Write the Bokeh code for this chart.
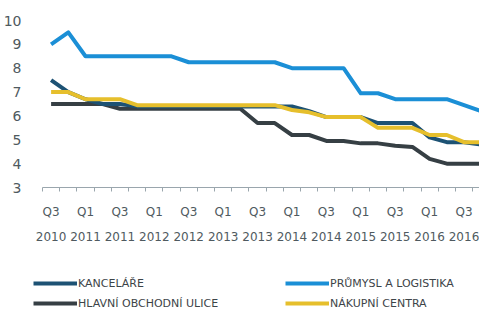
from bokeh.plotting import figure
from bokeh.layouts import column
from bokeh.models import FixedTicker, LinearAxis, Legend, LegendItem, Range1d
from bokeh.embed import file_html
from bokeh.resources import INLINE

quarters = ["Q3 2010", "Q4 2010", "Q1 2011", "Q2 2011", "Q3 2011", "Q4 2011",
            "Q1 2012", "Q2 2012", "Q3 2012", "Q4 2012", "Q1 2013", "Q2 2013",
            "Q3 2013", "Q4 2013", "Q1 2014", "Q2 2014", "Q3 2014", "Q4 2014",
            "Q1 2015", "Q2 2015", "Q3 2015", "Q4 2015", "Q1 2016", "Q2 2016",
            "Q3 2016", "Q4 2016"]

kancelare = [7.5, 7.0, 6.7, 6.5, 6.5, 6.4, 6.4, 6.4, 6.4, 6.4, 6.4, 6.4, 6.4,
             6.4, 6.4, 6.2, 5.95, 5.95, 5.95, 5.7, 5.7, 5.7, 5.1, 4.9, 4.9, 4.8]
prumysl = [9.0, 9.5, 8.5, 8.5, 8.5, 8.5, 8.5, 8.5, 8.25, 8.25, 8.25, 8.25, 8.25,
           8.25, 8.0, 8.0, 8.0, 8.0, 6.95, 6.95, 6.7, 6.7, 6.7, 6.7, 6.45, 6.2]
hlavni = [6.5, 6.5, 6.5, 6.5, 6.3, 6.3, 6.3, 6.3, 6.3, 6.3, 6.3, 6.3, 5.7,
          5.7, 5.2, 5.2, 4.95, 4.95, 4.85, 4.85, 4.75, 4.7, 4.2, 4.0, 4.0, 4.0]
nakupni = [7.0, 7.0, 6.7, 6.7, 6.7, 6.45, 6.45, 6.45, 6.45, 6.45, 6.45, 6.45, 6.45,
           6.45, 6.25, 6.15, 5.95, 5.95, 5.95, 5.5, 5.5, 5.5, 5.2, 5.2, 4.9, 4.9]

series_names = ["KANCELÁŘE", "PRŮMYSL A LOGISTIKA", "HLAVNÍ OBCHODNÍ ULICE", "NÁKUPNÍ CENTRA"]
y_ticks = [3, 4, 5, 6, 7, 8, 9, 10]

FONT = "DejaVu Sans"
TXT = "#4f5a60"
colors = {"k": "#1d5274", "p": "#1b8fd6", "h": "#363f44", "n": "#e6bf2c"}

x = list(range(len(quarters)))

p = figure(frame_width=437, frame_height=167,
           output_backend="svg", toolbar_location=None,
           x_range=Range1d(-0.5, 24.9), y_range=Range1d(3, 10),
           min_border_left=35, min_border_right=0, min_border_top=20,
           min_border_bottom=70)
p.outline_line_color = None
p.xgrid.visible = False
p.ygrid.visible = False
p.background_fill_color = "white"
p.border_fill_color = "white"

label_idx = list(range(0, len(quarters), 2))
minor = [i - 0.5 for i in range(len(quarters) + 1)]

xa = p.xaxis[0]
xa.ticker = FixedTicker(ticks=label_idx, minor_ticks=minor)
xa.major_label_overrides = {i: quarters[i].split()[0] for i in label_idx}
xa.major_tick_out = 0
xa.major_tick_in = 0
xa.minor_tick_out = 4
xa.minor_tick_in = 0
xa.axis_line_color = "#9aa6ad"
xa.minor_tick_line_color = "#9aa6ad"
xa.major_label_standoff = 13
xa.major_label_text_font = FONT
xa.major_label_text_font_size = "12px"
xa.major_label_text_color = TXT

xa2 = LinearAxis(ticker=FixedTicker(ticks=label_idx, minor_ticks=[]))
xa2.major_label_overrides = {i: quarters[i].split()[1] for i in label_idx}
xa2.axis_line_color = None
xa2.major_tick_line_color = None
xa2.minor_tick_line_color = None
xa2.major_tick_out = 0
xa2.major_tick_in = 0
xa2.major_label_standoff = 10
xa2.major_label_text_font = FONT
xa2.major_label_text_font_size = "12px"
xa2.major_label_text_color = TXT
p.add_layout(xa2, "below")

ya = p.yaxis[0]
ya.ticker = FixedTicker(ticks=y_ticks)
ya.axis_line_color = None
ya.major_tick_line_color = None
ya.minor_tick_line_color = None
ya.major_label_standoff = 15
ya.major_label_text_font = FONT
ya.major_label_text_font_size = "14px"
ya.major_label_text_color = TXT

def draw(fig):
    r_h = fig.line(x, hlavni, line_color=colors["h"], line_width=4, line_join="round")
    r_k = fig.line(x, kancelare, line_color=colors["k"], line_width=4, line_join="round")
    r_p = fig.line(x, prumysl, line_color=colors["p"], line_width=4, line_join="round")
    r_n = fig.line(x, nakupni, line_color=colors["n"], line_width=4, line_join="round")
    return r_k, r_p, r_h, r_n

draw(p)

can_unalign = "frame_align" in p.properties()

# legend strip below the chart (its lines lie outside its visible range)
q = figure(width=472, height=56, output_backend="svg", toolbar_location=None,
           x_axis_type=None, y_axis_type=None,
           x_range=Range1d(0, 1), y_range=Range1d(100, 101),
           min_border_left=0 if can_unalign else 35, min_border_right=0,
           min_border_top=0, min_border_bottom=0)
q.outline_line_color = None
q.xgrid.visible = False
q.ygrid.visible = False
q.background_fill_color = "white"
q.border_fill_color = "white"
rk, rp, rh, rn = draw(q)

if can_unalign:
    p.frame_align = False
    q.frame_align = False
    x1, x2 = 33, 285
else:
    x1, x2 = 0, 242

def make_legend(items, loc):
    return Legend(items=items, location=loc, orientation="vertical",
                  glyph_width=44, glyph_height=16, label_height=16,
                  label_standoff=1, spacing=4, padding=0, margin=0,
                  border_line_color=None, background_fill_alpha=0,
                  label_text_font=FONT, label_text_font_size="11px",
                  label_text_color="#3d4448")

lg1 = make_legend([LegendItem(label=series_names[0], renderers=[rk]),
                   LegendItem(label=series_names[2], renderers=[rh])], (x1, 2))
lg2 = make_legend([LegendItem(label=series_names[1], renderers=[rp]),
                   LegendItem(label=series_names[3], renderers=[rn])], (x2, 2))
q.add_layout(lg1, "center")
q.add_layout(lg2, "center")

layout = column(p, q, spacing=0)
open("out.html", "w").write(file_html(layout, INLINE))
